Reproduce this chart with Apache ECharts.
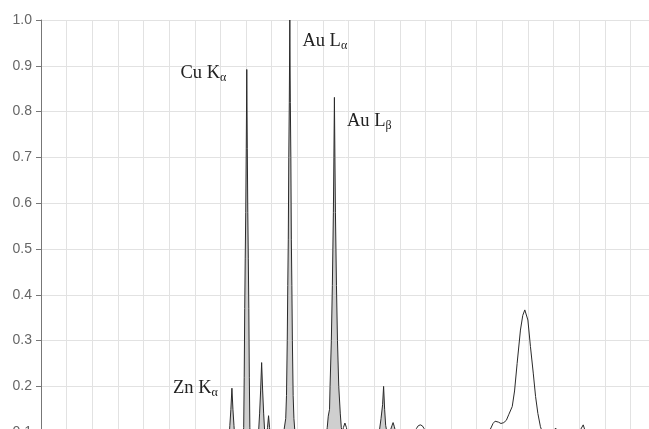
<!DOCTYPE html>
<html>
<head>
<meta charset="utf-8">
<script src="https://cdn.jsdelivr.net/npm/echarts@6/dist/echarts.min.js"></script>
<style>
html,body{margin:0;padding:0;background:#fff;}
#chart{width:649px;height:429px;}
</style>
</head>
<body>
<div id="chart"></div>
<script>
// Energy (keV) and relative intensity of the spectrum
var energies = [
  0, 0.5, 1.0, 1.5, 2.0, 2.5, 3.0, 3.5, 4.0, 4.5, 5.0, 5.5, 6.0, 6.5, 7.0, 7.2,
  7.27, 7.33, 7.37, 7.41, 7.45, 7.49, 7.53, 7.57, 7.63, 7.75, 7.85,
  7.87, 7.91, 7.93, 7.95, 7.97, 7.99, 8.01, 8.03, 8.05, 8.07, 8.09, 8.11, 8.13, 8.15, 8.19, 8.30, 8.43,
  8.49, 8.53, 8.57, 8.61, 8.65, 8.69, 8.73, 8.77,
  8.80, 8.84, 8.88, 8.92, 8.96, 9.05, 9.20, 9.35,
  9.49, 9.55, 9.58, 9.61, 9.63, 9.65, 9.67, 9.69, 9.71, 9.73, 9.75, 9.77, 9.79, 9.81, 9.84, 9.87, 9.91, 10.0,
  10.5, 11.0,
  11.10, 11.17, 11.21, 11.26, 11.28, 11.33, 11.37, 11.41, 11.43, 11.45, 11.47, 11.49, 11.53, 11.57, 11.62, 11.68, 11.72, 11.76, 11.80, 11.86, 11.92, 11.97,
  12.3, 12.8,
  13.15, 13.21, 13.27, 13.33, 13.37, 13.41, 13.45, 13.50,
  13.58, 13.64, 13.70, 13.74, 13.79, 13.84, 13.95,
  14.3, 14.55, 14.65, 14.72, 14.80, 14.88, 14.95, 15.05, 15.3,
  16.0, 17.0, 17.3,
  17.54, 17.64, 17.72, 17.77, 17.85, 17.95, 18.06, 18.16, 18.25, 18.39, 18.48, 18.58, 18.71, 18.80, 18.88, 19.0, 19.1, 19.21, 19.3, 19.39, 19.49, 19.6, 19.9,
  20.0, 20.08, 20.2, 20.6, 21.0, 21.16, 21.25, 21.5, 22.0, 23.0, 24.0
];
var intensities = [
  0.01, 0.03, 0.04, 0.035, 0.03, 0.03, 0.03, 0.03, 0.035, 0.035, 0.04, 0.04, 0.045, 0.05, 0.05, 0.05,
  0.055, 0.08, 0.115, 0.15, 0.196, 0.15, 0.115, 0.08, 0.06, 0.055, 0.06,
  0.07, 0.11, 0.22, 0.37, 0.48, 0.58, 0.72, 0.892, 0.72, 0.58, 0.48, 0.37, 0.22, 0.11, 0.07, 0.065, 0.065,
  0.10, 0.14, 0.19, 0.252, 0.19, 0.14, 0.10, 0.085,
  0.085, 0.11, 0.136, 0.11, 0.08, 0.065, 0.065, 0.07,
  0.107, 0.13, 0.18, 0.30, 0.42, 0.52, 0.70, 0.82, 1.0, 0.82, 0.70, 0.52, 0.42, 0.30, 0.18, 0.13, 0.10, 0.075,
  0.07, 0.075,
  0.08, 0.11, 0.135, 0.15, 0.20, 0.30, 0.42, 0.58, 0.70, 0.831, 0.70, 0.58, 0.42, 0.30, 0.20, 0.14, 0.11, 0.10, 0.11, 0.12, 0.11, 0.095,
  0.08, 0.08,
  0.085, 0.105, 0.13, 0.16, 0.20, 0.15, 0.115, 0.10,
  0.098, 0.105, 0.115, 0.121, 0.112, 0.10, 0.09,
  0.09, 0.10, 0.108, 0.114, 0.116, 0.114, 0.108, 0.10, 0.09,
  0.09, 0.095, 0.10,
  0.107, 0.119, 0.124, 0.125, 0.122, 0.119, 0.121, 0.126, 0.138, 0.156, 0.19, 0.25, 0.323, 0.355, 0.367, 0.345, 0.287, 0.229, 0.178, 0.141, 0.112, 0.095, 0.09,
  0.10, 0.109, 0.10, 0.095, 0.10, 0.116, 0.10, 0.09, 0.085, 0.08, 0.075
];
// Energy ranges of the shaded (identified) peaks
var shadedRanges = [[7.25, 7.65], [7.86, 8.21], [8.46, 9.0], [9.4, 10.0], [11.08, 11.74], [13.12, 13.9]];
// Peak annotations
var peakNames = ['Zn K', 'Cu K', 'Au L', 'Au L'];
var peakSubs = ['α', 'α', 'α', 'β'];
var labelAnchorE = [5.17, 5.46, 10.22, 11.96];
var labelAnchorI = [0.195, 0.883, 0.953, 0.778];
// Axis ticks
var yTicks = [0, 0.1, 0.2, 0.3, 0.4, 0.5, 0.6, 0.7, 0.8, 0.9, 1.0];

var lineData = energies.map(function (e, i) { return [e, intensities[i]]; });
var areaData = energies.map(function (e, i) {
  var inside = shadedRanges.some(function (r) { return e >= r[0] && e <= r[1]; });
  return [e, inside ? intensities[i] : null];
});
var markData = peakNames.map(function (n, i) {
  return { coord: [labelAnchorE[i], labelAnchorI[i]], label: { formatter: '{m|' + n + '}{s|' + peakSubs[i] + '}' } };
});

var chart = echarts.init(document.getElementById('chart'), null, { renderer: 'canvas' });
chart.setOption({
  animation: false,
  backgroundColor: '#fff',
  grid: { left: 41, top: 20, width: 615, height: 458, outerBoundsMode: 'none', containLabel: false },
  xAxis: {
    type: 'value', min: 0, max: 24, interval: 1,
    axisLine: { show: false }, axisTick: { show: false }, axisLabel: { show: false },
    splitLine: { show: true, lineStyle: { color: '#e2e2e2', width: 1 } }
  },
  yAxis: {
    type: 'value', min: yTicks[0], max: yTicks[yTicks.length - 1], interval: 0.1,
    axisLine: { show: true, onZero: false, lineStyle: { color: '#777', width: 1 } },
    axisTick: { show: true, length: 5, lineStyle: { color: '#777' } },
    axisLabel: { color: '#666', fontSize: 14, fontFamily: 'Liberation Sans', margin: 9,
      formatter: function (v) { return v.toFixed(1); } },
    splitLine: { show: true, lineStyle: { color: '#e2e2e2', width: 1 } }
  },
  series: [
    {
      type: 'line', data: areaData, showSymbol: false, symbol: 'none', connectNulls: false,
      lineStyle: { width: 0 }, areaStyle: { color: '#cfcfcf', opacity: 1 }, z: 2, silent: true
    },
    {
      type: 'line', data: lineData, showSymbol: false, symbol: 'none',
      lineStyle: { color: '#2a2a2a', width: 1 }, z: 3, silent: true,
      markPoint: {
        symbol: 'circle', symbolSize: 1, itemStyle: { color: 'rgba(0,0,0,0)' }, silent: true,
        label: {
          show: true, position: [0, 0], align: 'left', verticalAlign: 'middle',
          rich: {
            m: { fontFamily: 'Liberation Serif', fontSize: 18.5, color: '#222', lineHeight: 22 },
            s: { fontFamily: 'Liberation Serif', fontSize: 12, color: '#222', lineHeight: 12, verticalAlign: 'bottom' }
          }
        },
        data: markData
      }
    }
  ]
});
</script>
</body>
</html>
